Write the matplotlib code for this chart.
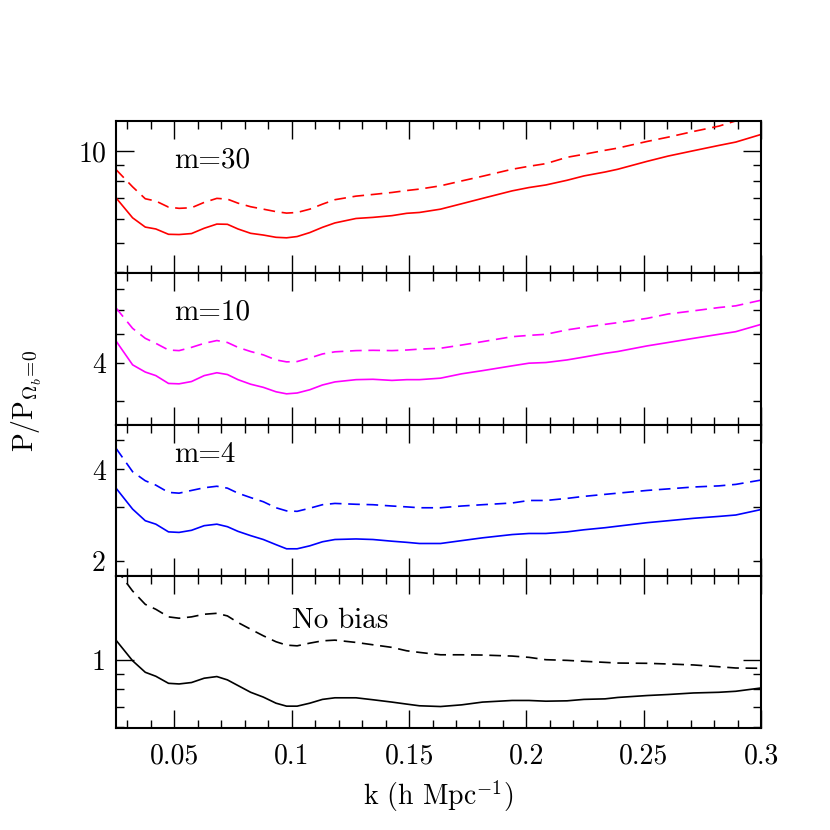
import numpy as np
import matplotlib
matplotlib.use("Agg")
import matplotlib.pyplot as plt
from matplotlib.ticker import MultipleLocator, LogLocator, FuncFormatter
import matplotlib.transforms as mtransforms

plt.rcParams['font.family'] = 'serif'
plt.rcParams['font.serif'] = ['cmr10']
plt.rcParams['mathtext.fontset'] = 'cm'
plt.rcParams['axes.formatter.use_mathtext'] = True

# wavenumber grid (h/Mpc)
k = [0.0250, 0.0322, 0.0376, 0.0421, 0.0475, 0.0520, 0.0573, 0.0627, 0.0681, 0.0726,
     0.0771, 0.0825, 0.0879, 0.0933, 0.0978, 0.1023, 0.1077, 0.1131, 0.1184, 0.1274,
     0.1346, 0.1427, 0.1490, 0.1544, 0.1634, 0.1724, 0.1813, 0.1939, 0.2011, 0.2083,
     0.2173, 0.2245, 0.2335, 0.2389, 0.2514, 0.2604, 0.2712, 0.2820, 0.2892, 0.3000]

m30_solid = [7.05, 6.04, 5.63, 5.55, 5.33, 5.32, 5.36, 5.58, 5.76, 5.75,
             5.55, 5.37, 5.30, 5.21, 5.19, 5.24, 5.40, 5.62, 5.81, 6.01,
             6.06, 6.14, 6.25, 6.29, 6.45, 6.72, 7.00, 7.41, 7.60, 7.75,
             8.03, 8.30, 8.55, 8.73, 9.27, 9.65, 10.05, 10.46, 10.73, 11.37]
m30_dash = [8.73, 7.64, 6.98, 6.86, 6.55, 6.49, 6.52, 6.79, 7.00, 6.96,
            6.75, 6.57, 6.45, 6.33, 6.26, 6.29, 6.45, 6.70, 6.93, 7.12,
            7.21, 7.32, 7.43, 7.51, 7.70, 7.99, 8.28, 8.73, 8.93, 9.11,
            9.56, 9.78, 10.08, 10.25, 10.78, 11.14, 11.63, 12.11, 12.60, 13.20]

m10_solid = [4.75, 3.95, 3.74, 3.64, 3.43, 3.42, 3.48, 3.64, 3.72, 3.67,
             3.53, 3.41, 3.33, 3.22, 3.17, 3.19, 3.27, 3.39, 3.47, 3.53,
             3.54, 3.51, 3.53, 3.53, 3.57, 3.69, 3.78, 3.92, 4.00, 4.02,
             4.10, 4.19, 4.31, 4.37, 4.56, 4.68, 4.83, 4.98, 5.08, 5.37]
m10_dash = [6.10, 5.21, 4.83, 4.65, 4.42, 4.40, 4.51, 4.65, 4.75, 4.68,
            4.51, 4.37, 4.26, 4.10, 4.04, 4.05, 4.16, 4.29, 4.36, 4.40,
            4.41, 4.40, 4.42, 4.45, 4.48, 4.59, 4.71, 4.89, 4.94, 4.98,
            5.15, 5.25, 5.37, 5.44, 5.62, 5.81, 5.95, 6.10, 6.18, 6.45]

m4_solid = [3.48, 2.96, 2.71, 2.64, 2.49, 2.48, 2.52, 2.61, 2.64, 2.59,
            2.50, 2.42, 2.35, 2.26, 2.19, 2.19, 2.24, 2.31, 2.35, 2.36,
            2.35, 2.32, 2.30, 2.28, 2.28, 2.33, 2.38, 2.44, 2.46, 2.46,
            2.49, 2.53, 2.57, 2.60, 2.67, 2.71, 2.76, 2.80, 2.83, 2.95]
m4_dash = [4.71, 3.93, 3.67, 3.55, 3.36, 3.34, 3.41, 3.48, 3.52, 3.47,
           3.34, 3.23, 3.13, 2.99, 2.92, 2.91, 2.98, 3.06, 3.09, 3.07,
           3.06, 3.03, 3.01, 2.99, 2.99, 3.03, 3.06, 3.10, 3.16, 3.16,
           3.21, 3.26, 3.31, 3.34, 3.41, 3.45, 3.50, 3.53, 3.57, 3.69]

nobias_solid = [1.163, 0.992, 0.909, 0.882, 0.836, 0.832, 0.841, 0.869, 0.880, 0.858,
                0.822, 0.781, 0.753, 0.719, 0.703, 0.703, 0.719, 0.740, 0.749, 0.749,
                0.738, 0.725, 0.714, 0.705, 0.701, 0.710, 0.725, 0.734, 0.734, 0.730,
                0.732, 0.740, 0.743, 0.751, 0.762, 0.768, 0.777, 0.781, 0.787, 0.807]
nobias_dash = [2.00, 1.684, 1.522, 1.466, 1.384, 1.370, 1.384, 1.412, 1.422, 1.394,
               1.326, 1.260, 1.199, 1.146, 1.117, 1.111, 1.134, 1.154, 1.160, 1.140,
               1.120, 1.098, 1.070, 1.057, 1.038, 1.038, 1.036, 1.028, 1.018, 1.000,
               0.995, 0.988, 0.980, 0.975, 0.973, 0.968, 0.961, 0.948, 0.939, 0.937]

panels = [
    ("m=30", "red", m30_solid, m30_dash, (10**0.6, 10**1.1), [], 0.691, 0.05),
    ("m=10", "#ff00ff", m10_solid, m10_dash, (10**0.4, 10**0.9), [4], 0.691, 0.05),
    ("m=4", "blue", m4_solid, m4_dash, (10**0.25, 10**0.75), [2, 4], 0.750, 0.05),
    ("No bias", "black", nobias_solid, nobias_dash, (10**-0.225, 10**0.275), [], 0.658, 0.1),
]

fig = plt.figure(figsize=(8.3, 8.3), dpi=100)
gs = fig.add_gridspec(4, 1, left=0.1394, right=0.917, bottom=0.1229, top=0.8542, hspace=0)

axes = []
for i, (label, color, solid, dash, ylim, minor_labels, ty, tx) in enumerate(panels):
    ax = fig.add_subplot(gs[i])
    ax.plot(k, dash, color=color, lw=1.2, linestyle=(0, (7, 4)))
    ax.plot(k, solid, color=color, lw=1.2)
    ax.set_yscale('log')
    ax.set_xlim(0.025, 0.3)
    ax.set_ylim(*ylim)

    ax.yaxis.set_major_locator(LogLocator(base=10, subs=(1.0,), numticks=20))
    ax.yaxis.set_minor_locator(LogLocator(base=10, subs=np.arange(2, 10), numticks=20))
    ax.yaxis.set_major_formatter(FuncFormatter(lambda v, p: '%g' % v))
    labs = list(minor_labels)
    ax.yaxis.set_minor_formatter(
        FuncFormatter(lambda v, p, labs=labs: ('%g' % v) if any(abs(v - l) < 1e-6 for l in labs) else ''))

    ax.xaxis.set_major_locator(MultipleLocator(0.05))
    ax.xaxis.set_minor_locator(MultipleLocator(0.01))
    ax.xaxis.set_major_formatter(FuncFormatter(lambda v, p: '%g' % round(v, 3)))

    ax.tick_params(which='both', direction='in', top=True, right=True, width=1.0,
                   labelsize=20, pad=7)
    ax.tick_params(which='major', length=13)
    ax.tick_params(which='minor', length=6)
    ax.tick_params(axis='x', which='both', pad=11)
    for s in ax.spines.values():
        s.set_linewidth(1.5)
    if i < 3:
        ax.tick_params(axis='x', which='both', labelbottom=False)

    trans = mtransforms.blended_transform_factory(ax.transData, ax.transAxes)
    ax.text(tx, ty, label, transform=trans, fontsize=21, ha='left', va='baseline')
    axes.append(ax)

axes[-1].set_xlabel(r'k (h Mpc$^{-1}$)', fontsize=20, labelpad=6)
fig.text(0.032, 0.517, r'P/P$_{\Omega_b\!=\!0}$', rotation=90, fontsize=20,
         ha='center', va='center')

fig.savefig('out.png', dpi=100)
